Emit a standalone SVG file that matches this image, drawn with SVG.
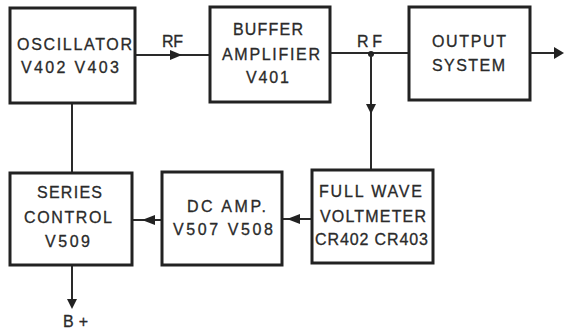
<svg xmlns="http://www.w3.org/2000/svg" width="564" height="329" viewBox="0 0 564 329">
<style>
.box{fill:none;stroke:#222;stroke-width:3}
.ln{fill:none;stroke:#2a2a2a;stroke-width:2}
.ah{fill:#222}
text{font-family:"Liberation Sans","DejaVu Sans",Arial,sans-serif;font-size:16px;fill:#2a2a2a;stroke:#2a2a2a;stroke-width:0.3}
</style>
<rect width="564" height="329" fill="#fff"/>
<g id="connectors">
<line class="ln" x1="135" y1="55" x2="210" y2="55"/>
<polygon class="ah" points="182,55 170,50 170,60"/>
<line class="ln" x1="330" y1="53" x2="409" y2="53"/>
<circle class="ah" cx="371" cy="54" r="3"/>
<line class="ln" x1="371" y1="54" x2="371" y2="170"/>
<polygon class="ah" points="371,114 366,104 376,104"/>
<line class="ln" x1="530" y1="53" x2="556" y2="53"/>
<polygon class="ah" points="564,53 554,47 554,59"/>
<line class="ln" x1="72" y1="103" x2="72" y2="173"/>
<line class="ln" x1="312" y1="219" x2="282" y2="219"/>
<polygon class="ah" points="287,219 300,214 300,224"/>
<line class="ln" x1="162" y1="220" x2="132" y2="220"/>
<polygon class="ah" points="142,220 155,215 155,225"/>
<line class="ln" x1="72" y1="265" x2="72" y2="302"/>
<polygon class="ah" points="72,309 67,299 77,299"/>
<text x="63" y="327" textLength="25" lengthAdjust="spacing">B+</text>
<text x="162" y="47" textLength="21" lengthAdjust="spacing">RF</text>
<text x="357" y="47" textLength="25" lengthAdjust="spacing">RF</text>
</g>
<g id="oscillator">
<rect class="box" x="10" y="8" width="125" height="95"/>
<text x="17" y="50" textLength="115" lengthAdjust="spacing">OSCILLATOR</text>
<text x="21" y="73" textLength="98" lengthAdjust="spacing">V402 V403</text>
</g>
<g id="buffer">
<rect class="box" x="210" y="7" width="120" height="95"/>
<text x="233" y="35" textLength="70" lengthAdjust="spacing">BUFFER</text>
<text x="222" y="60" textLength="98" lengthAdjust="spacing">AMPLIFIER</text>
<text x="246" y="83" textLength="43" lengthAdjust="spacing">V401</text>
</g>
<g id="output">
<rect class="box" x="409" y="7" width="121" height="93"/>
<text x="432" y="47" textLength="74" lengthAdjust="spacing">OUTPUT</text>
<text x="432" y="71" textLength="73" lengthAdjust="spacing">SYSTEM</text>
</g>
<g id="series">
<rect class="box" x="10" y="173" width="122" height="92"/>
<text x="37" y="198" textLength="65" lengthAdjust="spacing">SERIES</text>
<text x="24" y="223" textLength="88" lengthAdjust="spacing">CONTROL</text>
<text x="45" y="247" textLength="45" lengthAdjust="spacing">V509</text>
</g>
<g id="dcamp">
<rect class="box" x="162" y="172" width="120" height="93"/>
<text x="187" y="212" textLength="79" lengthAdjust="spacing">DC  AMP.</text>
<text x="173" y="235" textLength="100" lengthAdjust="spacing">V507  V508</text>
</g>
<g id="voltmeter">
<rect class="box" x="312" y="170" width="121" height="93"/>
<text x="319" y="197" textLength="103" lengthAdjust="spacing">FULL WAVE</text>
<text x="320" y="222" textLength="106" lengthAdjust="spacing">VOLTMETER</text>
<text x="315" y="245" textLength="113" lengthAdjust="spacing">CR402 CR403</text>
</g>
</svg>
